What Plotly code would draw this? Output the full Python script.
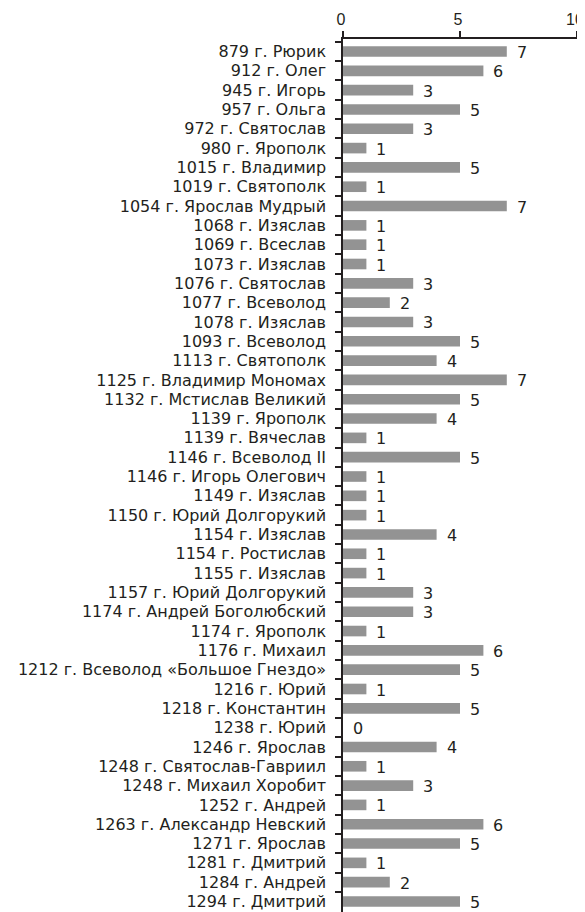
import plotly.graph_objects as go

categories = [
    "879 г. Рюрик", "912 г. Олег", "945 г. Игорь", "957 г. Ольга", "972 г. Святослав",
    "980 г. Ярополк", "1015 г. Владимир", "1019 г. Святополк", "1054 г. Ярослав Мудрый",
    "1068 г. Изяслав", "1069 г. Всеслав", "1073 г. Изяслав", "1076 г. Святослав",
    "1077 г. Всеволод", "1078 г. Изяслав", "1093 г. Всеволод", "1113 г. Святополк",
    "1125 г. Владимир Мономах", "1132 г. Мстислав Великий", "1139 г. Ярополк",
    "1139 г. Вячеслав", "1146 г. Всеволод II", "1146 г. Игорь Олегович", "1149 г. Изяслав",
    "1150 г. Юрий Долгорукий", "1154 г. Изяслав", "1154 г. Ростислав", "1155 г. Изяслав",
    "1157 г. Юрий Долгорукий", "1174 г. Андрей Боголюбский", "1174 г. Ярополк",
    "1176 г. Михаил", "1212 г. Всеволод «Большое Гнездо»", "1216 г. Юрий",
    "1218 г. Константин", "1238 г. Юрий", "1246 г. Ярослав", "1248 г. Святослав-Гавриил",
    "1248 г. Михаил Хоробит", "1252 г. Андрей", "1263 г. Александр Невский",
    "1271 г. Ярослав", "1281 г. Дмитрий", "1284 г. Андрей", "1294 г. Дмитрий",
]
values = [7, 6, 3, 5, 3, 1, 5, 1, 7, 1, 1, 1, 3, 2, 3, 5, 4, 7, 5, 4, 1, 5, 1, 1, 1,
          4, 1, 1, 3, 3, 1, 6, 5, 1, 5, 0, 4, 1, 3, 1, 6, 5, 1, 2, 5]
x_ticks = [0, 5, 10]

FONT = "DejaVu Sans"
TICK_FONT = "Liberation Sans"
INK = "#231f20"

fig = go.Figure(go.Bar(
    x=values, y=categories, orientation="h",
    marker=dict(color="#939393", line=dict(width=0)),
    width=0.55, hoverinfo="x+y",
))

for c, v in zip(categories, values):
    fig.add_annotation(x=v, y=c, text=str(v), showarrow=False, xanchor="left",
                       xshift=8, yshift=-1, font=dict(family=FONT, size=16, color=INK))

# page body has an 8px default margin: the figure starts at (8, 8) in the page
fig.update_layout(
    width=585, height=912,
    margin=dict(l=335, r=16, t=31, b=8),
    paper_bgcolor="white", plot_bgcolor="white",
    showlegend=False,
    font=dict(family=FONT, size=16, color=INK),
    bargap=0.45,
)
fig.update_xaxes(
    side="top", range=[0, 10], tickvals=x_ticks, ticktext=[str(t) for t in x_ticks],
    showgrid=False, zeroline=False, showline=True, linecolor=INK, linewidth=1.5,
    ticks="outside", ticklen=6, tickwidth=1.5, tickcolor=INK,
    tickfont=dict(size=16, family=TICK_FONT), ticklabelshift=-2, automargin=False,
)
fig.update_yaxes(
    type="category", categoryorder="array", categoryarray=categories,
    autorange="reversed", showgrid=False, zeroline=False,
    showline=True, linecolor=INK, linewidth=1.5,
    ticks="outside", ticklen=6, tickwidth=1.5, tickcolor=INK,
    tickson="boundaries", ticklabelstandoff=12, automargin=False,
    tickfont=dict(size=16, family=FONT),
)

fig.write_html("out.html")
